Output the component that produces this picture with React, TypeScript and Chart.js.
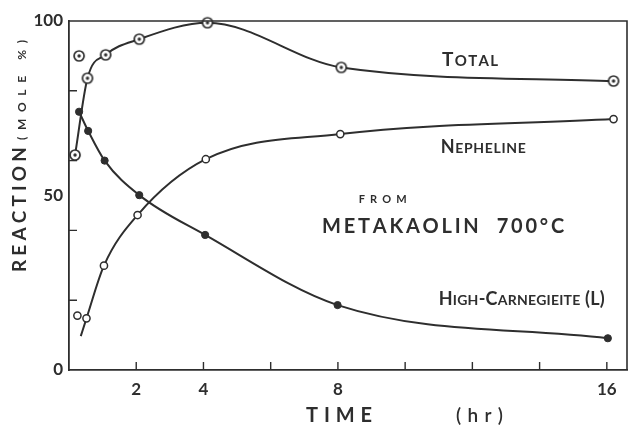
import React, { useEffect, useRef } from 'react';
import { Chart, registerables } from 'chart.js';

Chart.register(...registerables);

// ---- data ----
const totalX = [0.18, 0.55, 1.09, 2.09, 4.12, 8.1, 16.2];
const totalY = [61.6, 83.6, 90.3, 94.8, 99.5, 86.7, 82.8];
const totalOffX = [0.3];
const totalOffY = [90];

const nephX = [0.35, 0.52, 1.04, 2.04, 4.07, 8.07, 16.2];
const nephY = [9.7, 14.8, 29.9, 44.4, 60.4, 67.6, 71.9];
const nephMarked = [false, true, true, true, true, true, true];
const nephOffX = [0.25];
const nephOffY = [15.6];

const hcX = [0.3, 0.57, 1.06, 2.09, 4.05, 7.99, 16.03];
const hcY = [74, 68.5, 60, 50.1, 38.7, 18.6, 9.1];

const xTickLabels = [2, 4, 8, 16];
const xTickMarks = [2, 4, 6, 8, 10, 12, 14, 16];
const yTickLabels = [0, 50, 100];
const yTickMarks = [20, 40, 60, 80];

const labelTexts = ['Total', 'Nepheline', 'from', 'METAKAOLIN  700°C', 'High-Carnegieite (L)'];
const labelX = [11.1, 11.06, 8.62, 7.53, 11.0];
const labelY = [87.1, 62.2, 47.9, 39.3, 18.6];

const yTitle = ['REACTION', '(MOLE %)'];
const xTitle = ['TIME', '(hr)'];

// ---- style ----
const INK = '#2e2e2e';
const FAMILY = 'Lato, "DejaVu Sans", sans-serif';
const labelStyle = [
  { big: 19, small: 15, width: 56 },
  { big: 18, small: 14, width: 85 },
  { big: 14, small: 11, width: 48 },
  { big: 20, small: 16, width: 242 },
  { big: 18, small: 14, width: 166 },
];

function drawSpaced(
  ctx: CanvasRenderingContext2D,
  text: string,
  x: number,
  y: number,
  width: number,
  big: number,
  small: number,
  smallCaps = true,
  weight = 'bold'
) {
  const glyphs = [...text].map((ch) => {
    const isLower = smallCaps && ch !== ch.toUpperCase();
    const size = isLower ? small : big;
    const c = isLower ? ch.toUpperCase() : ch;
    ctx.font = `${weight} ${size}px ${FAMILY}`;
    return { c, font: ctx.font, w: ctx.measureText(c).width };
  });
  const natural = glyphs.reduce((s, g) => s + g.w, 0);
  const gap = glyphs.length > 1 ? (width - natural) / (glyphs.length - 1) : 0;
  let cx = x;
  for (const g of glyphs) {
    ctx.font = g.font;
    ctx.fillText(g.c, cx, y);
    cx += g.w + gap;
  }
}

function makeTotalMarker(): HTMLCanvasElement {
  const c = document.createElement('canvas');
  c.width = 14;
  c.height = 14;
  const g = c.getContext('2d')!;
  g.beginPath();
  g.arc(7, 7, 5, 0, Math.PI * 2);
  g.fillStyle = '#ffffff';
  g.fill();
  g.lineWidth = 1.7;
  g.strokeStyle = INK;
  g.stroke();
  g.beginPath();
  g.arc(7, 7, 1.7, 0, Math.PI * 2);
  g.fillStyle = INK;
  g.fill();
  return c;
}

const decorPlugin = {
  id: 'decor',
  afterDraw(chart: any) {
    const ctx: CanvasRenderingContext2D = chart.ctx;
    const xs = chart.scales.x;
    const ys = chart.scales.y;
    const area = chart.chartArea;
    ctx.save();
    ctx.strokeStyle = INK;
    ctx.lineWidth = 1.6;
    // frame top and right
    ctx.beginPath();
    ctx.moveTo(area.left, area.top);
    ctx.lineTo(area.right, area.top);
    ctx.lineTo(area.right, area.bottom);
    ctx.stroke();
    // inward tick marks
    ctx.lineWidth = 1.4;
    ctx.beginPath();
    for (const v of xTickMarks) {
      const px = xs.getPixelForValue(v);
      ctx.moveTo(px, area.bottom);
      ctx.lineTo(px, area.bottom - 8);
    }
    for (const v of yTickMarks) {
      const py = ys.getPixelForValue(v);
      ctx.moveTo(area.left, py);
      ctx.lineTo(area.left + 8, py);
    }
    ctx.stroke();

    ctx.fillStyle = INK;
    ctx.textBaseline = 'alphabetic';
    ctx.textAlign = 'left';
    // in-plot labels
    labelTexts.forEach((t, i) => {
      const st = labelStyle[i];
      drawSpaced(ctx, t, xs.getPixelForValue(labelX[i]), ys.getPixelForValue(labelY[i]), st.width, st.big, st.small);
    });

    // y title (rotated)
    ctx.save();
    ctx.translate(26, area.bottom - 98);
    ctx.rotate(-Math.PI / 2);
    drawSpaced(ctx, yTitle[0], 0, 0, 125, 19, 19, false);
    drawSpaced(ctx, yTitle[1], 132, 0, 100, 12, 12, false);
    ctx.restore();

    // x title
    drawSpaced(ctx, xTitle[0], area.left + 237, area.bottom + 52, 66, 20, 20, false);
    drawSpaced(ctx, xTitle[1], area.left + 387, area.bottom + 52, 47, 19, 19, false, '600');
    ctx.restore();
  },
};

export default function App() {
  const ref = useRef<HTMLCanvasElement | null>(null);

  useEffect(() => {
    if (!ref.current) return;
    const totalMarker = makeTotalMarker();
    const chart = new Chart(ref.current, {
      type: 'line',
      data: {
        datasets: [
          {
            label: 'Total',
            data: totalX.map((x, i) => ({ x, y: totalY[i] })),
            borderColor: INK,
            borderWidth: 2,
            cubicInterpolationMode: 'monotone',
            pointStyle: totalMarker as any,
            pointRadius: 6,
            fill: false,
          },
          {
            label: 'Total (off curve)',
            data: totalOffX.map((x, i) => ({ x, y: totalOffY[i] })),
            showLine: false,
            pointStyle: totalMarker as any,
            pointRadius: 6,
          },
          {
            label: 'Nepheline',
            data: nephX.map((x, i) => ({ x, y: nephY[i] })),
            borderColor: INK,
            borderWidth: 2,
            cubicInterpolationMode: 'monotone',
            pointStyle: 'circle',
            pointRadius: nephMarked.map((m) => (m ? 3.6 : 0)),
            pointBackgroundColor: '#ffffff',
            pointBorderColor: INK,
            pointBorderWidth: 1.5,
            fill: false,
          },
          {
            label: 'Nepheline (off curve)',
            data: nephOffX.map((x, i) => ({ x, y: nephOffY[i] })),
            showLine: false,
            pointStyle: 'circle',
            pointRadius: 3.6,
            pointBackgroundColor: '#ffffff',
            pointBorderColor: INK,
            pointBorderWidth: 1.5,
          },
          {
            label: 'High-Carnegieite (L)',
            data: hcX.map((x, i) => ({ x, y: hcY[i] })),
            borderColor: INK,
            borderWidth: 2,
            cubicInterpolationMode: 'monotone',
            pointStyle: 'circle',
            pointRadius: 3.6,
            pointBackgroundColor: INK,
            pointBorderColor: INK,
            pointBorderWidth: 1,
            fill: false,
          },
        ],
      },
      options: {
        animation: false,
        responsive: false,
        devicePixelRatio: 1,
        clip: false as any,
        layout: { padding: { top: 21, right: 2, left: 0, bottom: 0 } },
        plugins: {
          legend: { display: false },
          tooltip: { enabled: false },
        },
        scales: {
          x: {
            type: 'linear',
            min: 0,
            max: 16.6,
            grid: { display: false, drawTicks: false },
            border: { display: true, color: INK, width: 1.8 },
            afterBuildTicks: (scale: any) => {
              scale.ticks = xTickLabels.map((v) => ({ value: v }));
            },
            afterFit: (scale: any) => {
              scale.height = 56;
            },
            ticks: {
              padding: 9,
              color: INK,
              font: { family: FAMILY, size: 17, weight: 'bold' },
              callback: (v: any) => String(v),
            },
          },
          y: {
            type: 'linear',
            min: 0,
            max: 100,
            grid: { display: false, drawTicks: false },
            border: { display: true, color: INK, width: 1.8 },
            afterBuildTicks: (scale: any) => {
              scale.ticks = yTickLabels.map((v) => ({ value: v }));
            },
            afterFit: (scale: any) => {
              scale.width = 69;
            },
            ticks: {
              padding: 6,
              color: INK,
              font: { family: FAMILY, size: 17, weight: 'bold' },
              callback: (v: any) => String(v),
            },
          },
        },
      },
      plugins: [decorPlugin],
    } as any);
    return () => chart.destroy();
  }, []);

  return (
    <div style={{ position: 'absolute', left: 0, top: 0, width: 635, height: 426, background: '#ffffff' }}>
      <canvas ref={ref} width={635} height={426} style={{ display: 'block' }} />
    </div>
  );
}
